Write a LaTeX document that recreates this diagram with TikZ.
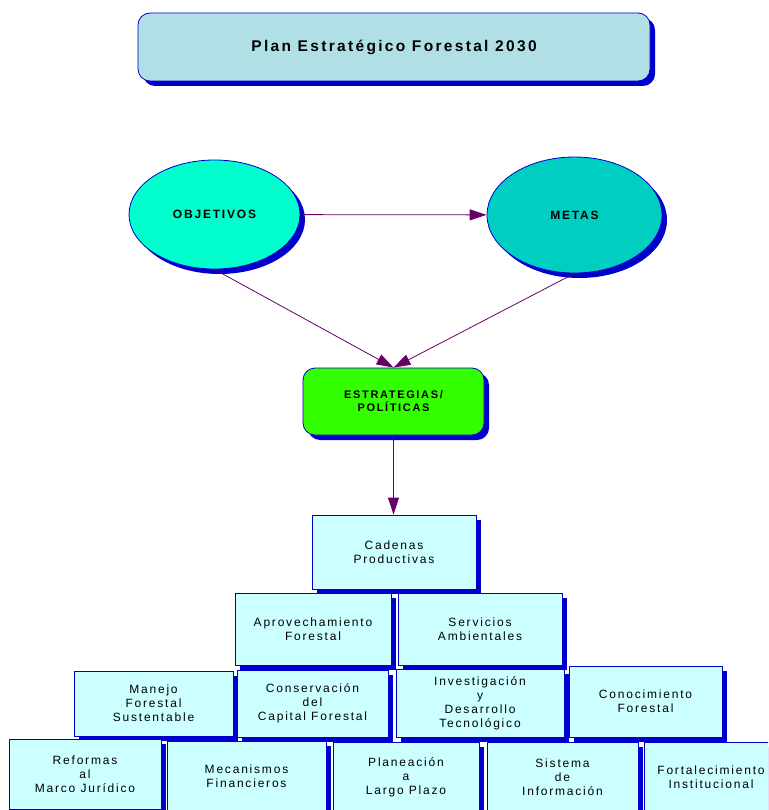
\documentclass[tikz,border=0pt]{standalone}
\usepackage{fontspec}
\setmainfont{Liberation Sans}[LetterSpace=15]
\usetikzlibrary{arrows.meta, shadows, shapes.geometric}
\definecolor{titlefill}{HTML}{B0E0E6}
\definecolor{objfill}{HTML}{00FFCC}
\definecolor{metasfill}{HTML}{00CEC0}
\definecolor{estrfill}{HTML}{33FF00}
\definecolor{boxfill}{HTML}{CCFFFF}
\definecolor{linkpurple}{HTML}{660066}
\definecolor{shadowblue}{HTML}{0000CC}

\begin{document}
\begin{tikzpicture}[x=1pt, y=-1pt, >={Triangle[length=17pt, width=11pt]}, line width=0.8pt]
                \tikzset{blueshadow/.style={drop shadow={shadow xshift=5pt, shadow yshift=-5pt, fill=shadowblue, opacity=1}}};
                \tikzset{block/.style={rectangle, draw=shadowblue, fill=boxfill, blueshadow, align=center, inner sep=0pt, font=\fontsize{12}{14}\selectfont}};
                \tikzset{bubble/.style={ellipse, draw=shadowblue, blueshadow, align=center, inner sep=0pt, font=\bfseries\fontsize{12}{14}\selectfont}};
                \tikzset{link/.style={->, draw=linkpurple}};
                \useasboundingbox (0, 0) rectangle (768, 810);
                \clip (0, 0) rectangle (768, 810);
                % top
                \node[rectangle, rounded corners=12pt, draw=shadowblue, fill=titlefill, blueshadow, minimum width=512pt, minimum height=68pt, font=\bfseries\fontsize{15.5}{18}\selectfont] (plan) at (394, 47) {Plan Estratégico Forestal 2030};
                \node[bubble, fill=objfill, minimum width=171pt, minimum height=109pt] (obj) at (214.5, 214.5) {OBJETIVOS};
                \node[bubble, fill=metasfill, minimum width=175pt, minimum height=116pt] (metas) at (574.5, 215) {METAS};
                \node[rectangle, rounded corners=12pt, draw=shadowblue, fill=estrfill, blueshadow, minimum width=181pt, minimum height=67pt, align=center, font=\bfseries\fontsize{11}{13}\selectfont] (estr) at (393.5, 401.5) {ESTRATEGIAS/\\POLÍTICAS};
                \draw[link] (obj) -- (metas);
                \draw[link] (obj.south) -- (estr.north);
                \draw[link] (metas.south) -- (estr.north);
                % pyramid
                \node[block, minimum width=164pt, minimum height=74pt] (cad) at (394, 552) {Cadenas\\Productivas};
                \draw[link] (estr.south) -- (estr.south |- cad.north);
                \node[block, minimum width=156pt, minimum height=72pt] (aprov) at (313, 629) {Aprovechamiento\\Forestal};
                \node[block, minimum width=164pt, minimum height=72pt] (serv) at (480, 629) {Servicios\\Ambientales};
                \node[block, minimum width=159pt, minimum height=65pt] (manejo) at (153.5, 703.5) {Manejo\\Forestal\\Sustentable};
                \node[block, minimum width=151pt, minimum height=67pt] (conserv) at (312.5, 703.5) {Conservación\\del\\Capital Forestal};
                \node[block, minimum width=168pt, minimum height=68pt] (invest) at (480, 703) {Investigación\\y\\Desarrollo\\Tecnológico};
                \node[block, minimum width=153pt, minimum height=71pt] (conoc) at (645.5, 701.5) {Conocimiento\\Forestal};
                % bottom row
                \node[block, minimum width=152pt, minimum height=70pt] (reformas) at (85, 774) {Reformas\\al\\Marco Jurídico};
                \node[block, minimum width=159pt, minimum height=70pt] (mecan) at (246.5, 776) {Mecanismos\\Financieros};
                \node[block, minimum width=146pt, minimum height=70pt] (planea) at (406, 777) {Planeación\\a\\Largo Plazo};
                \node[block, minimum width=151pt, minimum height=70pt] (sistema) at (562.5, 777) {Sistema\\de\\Información};
                \node[block, minimum width=134pt, minimum height=70pt] (fortal) at (711, 777) {Fortalecimiento\\Institucional};
            \end{tikzpicture}
\end{document}
